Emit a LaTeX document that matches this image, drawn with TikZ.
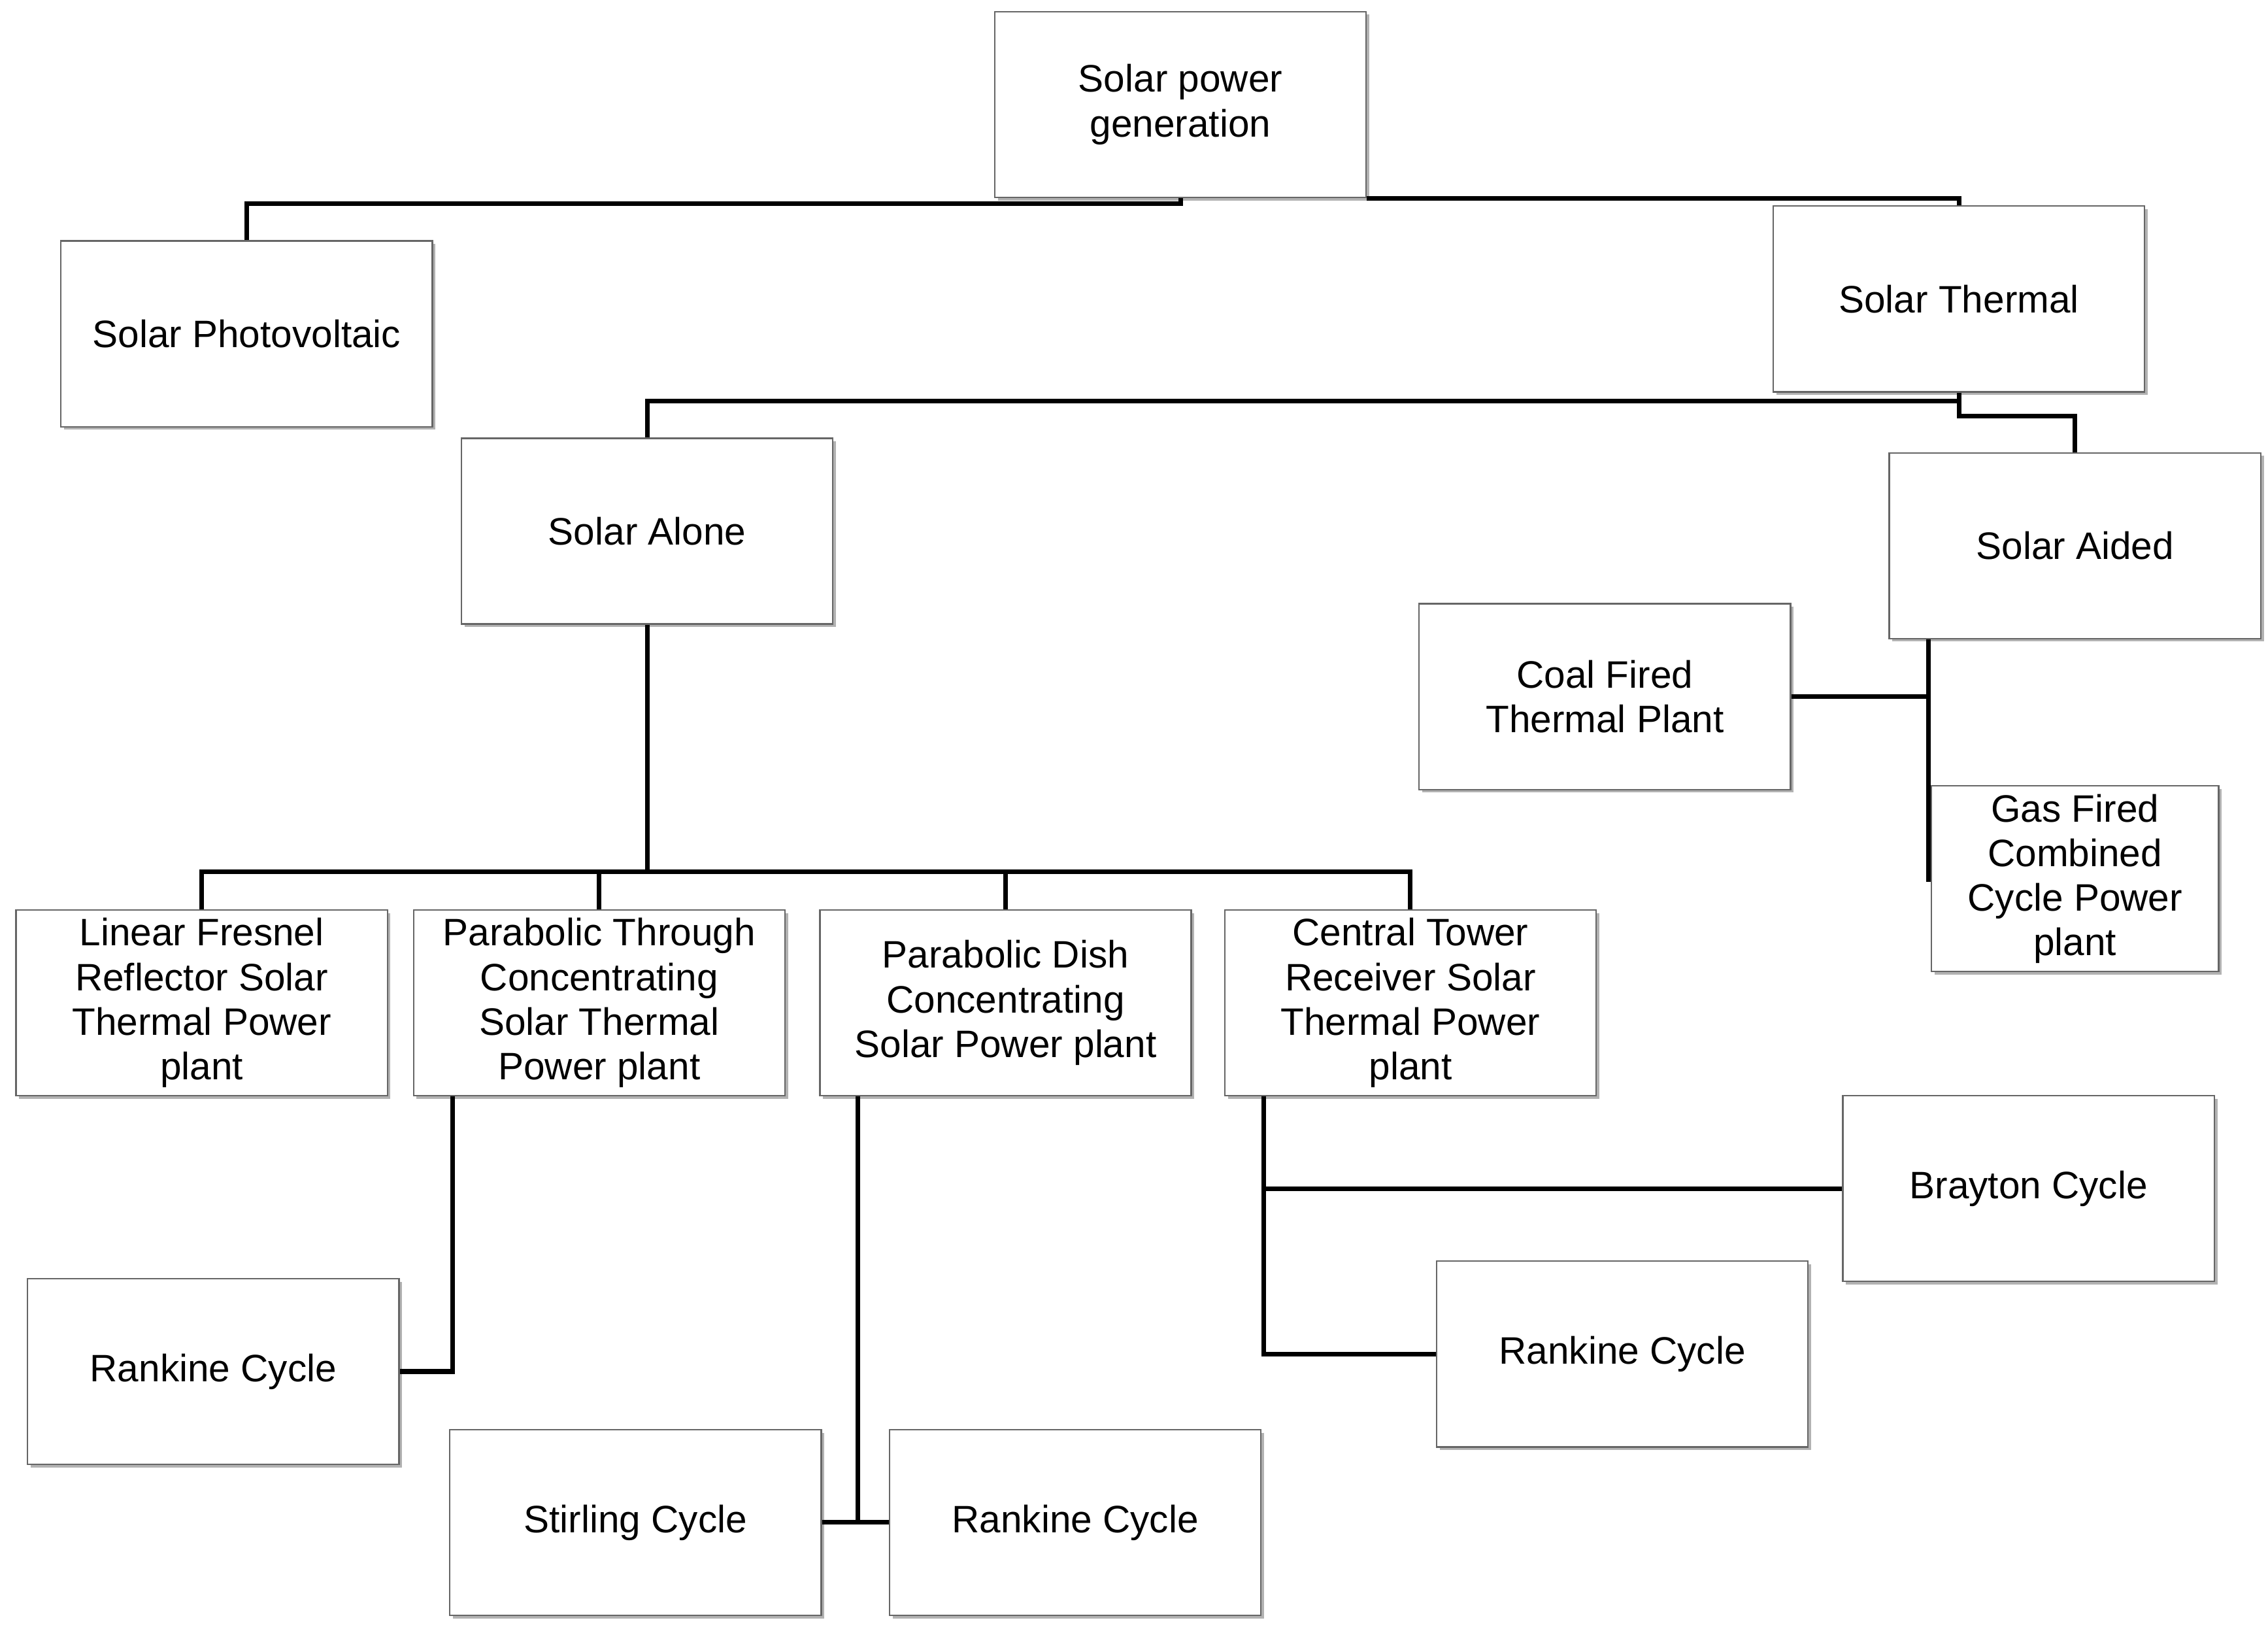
\documentclass[tikz,border=0pt]{standalone}
\usepackage{fontspec}
\setmainfont{Liberation Sans}
\usetikzlibrary{calc,shadows}
\begin{document}
\begin{tikzpicture}[x=0.02cm,y=-0.02cm,
  box/.style={draw=gray!80!black, line width=0.6pt, fill=white, minimum width=5.12cm, minimum height=2.56cm, align=center, inner sep=1pt, font=\fontsize{15}{17.5}\selectfont,
  drop shadow={shadow xshift=1.2pt, shadow yshift=-1.2pt, fill=gray!60, opacity=1}},
  ln/.style={line width=1.8pt, black}]
\useasboundingbox (0,0) rectangle (1563,1125);
\node[box] (top) at (813.5,72) {Solar power\\generation};
\node[box] (pv) at (170,230) {Solar Photovoltaic};
\node[box] (st) at (1350,206) {Solar Thermal};
\node[box] (alone) at (446,366) {Solar Alone};
\node[box] (aided) at (1430,376) {Solar Aided};
\node[box] (coal) at (1106,480) {Coal Fired\\Thermal Plant};
\node[box, minimum width=3.96cm] (gas) at (1430,605.5) {Gas Fired\\Combined\\Cycle Power\\plant};
\node[box] (lf) at (139,691) {Linear Fresnel\\Reflector Solar\\Thermal Power\\plant};
\node[box] (pt) at (413,691) {Parabolic Through\\Concentrating\\Solar Thermal\\Power plant};
\node[box] (pd) at (693,691) {Parabolic Dish\\Concentrating\\Solar Power plant};
\node[box] (ct) at (972,691) {Central Tower\\Receiver Solar\\Thermal Power\\plant};
\node[box] (bray) at (1398,819) {Brayton Cycle};
\node[box] (rk1) at (147,945) {Rankine Cycle};
\node[box] (rk2) at (1118,933) {Rankine Cycle};
\node[box] (stir) at (438,1049) {Stirling Cycle};
\node[box] (rk3) at (741,1049) {Rankine Cycle};
\draw[ln] (top.south) -- ++(0,4) -| (pv.north);
\draw[ln] (top.south east) -| (st.north);
\draw[ln] (st.south) -- ++(0,6) -| (alone.north);
\draw[ln] (st.south) -- ++(0,16) -| (aided.north);
\draw[ln] (alone.south) -- ++(0,171);
\draw[ln] (lf.north) -- ++(0,-26) -| (ct.north);
\draw[ln] (pt.north) -- ++(0,-26);
\draw[ln] (pd.north) -- ++(0,-26);
\draw[ln] ($(aided.south)+(-101,0)$) coordinate (a1) -- ++(0,167);
\draw[ln] (coal.east) -- (coal.east -| a1);
\draw[ln] ($(pt.south)+(-101,0)$) |- (rk1.east);
\draw[ln] ($(pd.south)+(-102,0)$) coordinate (d1) -- (d1 |- stir.east);
\draw[ln] (stir.east) -- (rk3.west);
\draw[ln] ($(ct.south)+(-101,0)$) coordinate (c1) |- (rk2.west);
\draw[ln] (c1 |- bray.west) -- (bray.west);
\end{tikzpicture}
\end{document}
